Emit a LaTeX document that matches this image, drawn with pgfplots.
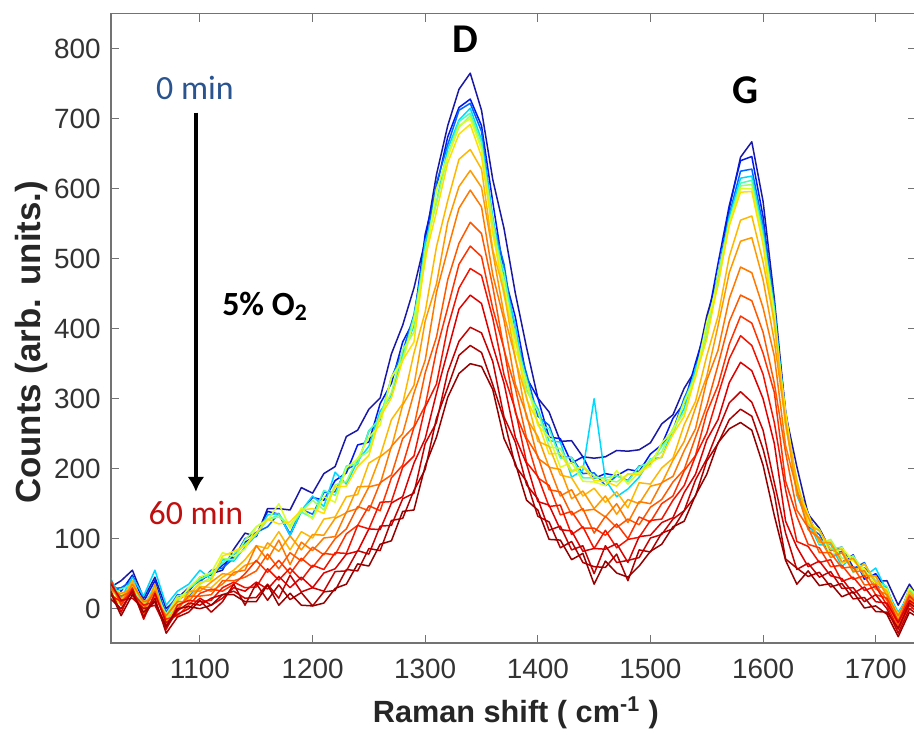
\documentclass[border=0pt]{standalone}
\usepackage{fontspec}
\setmainfont{Liberation Sans}
\newfontfamily\calibri{Carlito}
\usepackage{pgfplots}
\pgfplotsset{compat=1.18}
\usepackage{pgfplotstable}
\usetikzlibrary{arrows.meta}

% jet-like colours, 0 min (blue) to 60 min (dark red)
\definecolor{c0}{rgb}{0.10,0.10,0.65}
\definecolor{c1}{rgb}{0.00,0.10,0.95}
\definecolor{c2}{rgb}{0.00,0.40,1.00}
\definecolor{c3}{rgb}{0.00,0.85,1.00}
\definecolor{c4}{rgb}{0.30,1.00,0.70}
\definecolor{c5}{rgb}{0.60,1.00,0.40}
\definecolor{c6}{rgb}{0.85,1.00,0.15}
\definecolor{c7}{rgb}{1.00,0.88,0.00}
\definecolor{c8}{rgb}{1.00,0.72,0.00}
\definecolor{c9}{rgb}{1.00,0.60,0.00}
\definecolor{c10}{rgb}{1.00,0.47,0.00}
\definecolor{c11}{rgb}{1.00,0.35,0.00}
\definecolor{c12}{rgb}{1.00,0.20,0.00}
\definecolor{c13}{rgb}{0.95,0.08,0.00}
\definecolor{c14}{rgb}{0.87,0.00,0.00}
\definecolor{c15}{rgb}{0.78,0.00,0.00}
\definecolor{c16}{rgb}{0.68,0.00,0.00}
\definecolor{c17}{rgb}{0.58,0.00,0.00}
\definecolor{zeroblue}{rgb}{0.16,0.33,0.56}
\definecolor{sixtyred}{rgb}{0.75,0.06,0.06}

% Raman spectra, one column per time step (a0 = 0 min ... a17 = 60 min)
\pgfplotstableread{
x a0 a1 a2 a3 a4 a5 a6 a7 a8 a9 a10 a11 a12 a13 a14 a15 a16 a17
1020 30 35 28 45 20 30 15 22 40 25 35 30 45 20 28 38 15 25
1030 40 25 30 15 28 10 20 5 12 22 8 18 5 10 -5 12 0 -10
1040 55 48 40 45 35 38 30 32 40 28 35 25 30 22 28 15 25 20
1050 15 10 5 18 0 8 -5 10 5 -8 10 0 -10 5 -15 0 -12 -5
1060 45 40 30 55 35 25 30 20 28 35 15 25 20 10 22 5 15 10
1070 0 -10 -5 5 -15 -8 -20 -12 -18 -25 -10 -22 -15 -30 -20 -28 -35 -25
1080 15 10 20 25 12 18 8 15 5 -5 10 0 -10 5 -8 -3 -12 0
1090 30 25 18 35 28 22 30 20 15 25 10 18 5 12 0 8 -5 3
1100 40 45 38 55 42 35 45 38 32 25 30 18 22 10 15 5 12 0
1110 50 48 55 42 50 45 52 40 30 38 25 20 28 12 5 15 -5 5
1120 55 62 58 70 65 72 80 75 45 50 35 40 25 30 15 20 10 20
1130 85 75 72 68 78 70 75 82 55 48 52 40 35 38 30 25 35 20
1140 108 95 100 88 92 98 85 90 70 62 55 45 50 30 25 15 5 10
1150 103 104 109 105 106 117 117 108 90 67 90 54 69 31 38 16 36 10
1160 143 139 117 134 127 128 126 128 86 94 70 78 52 57 28 35 12 34
1170 143 135 136 136 134 131 150 121 110 82 98 57 69 41 46 15 34 5
1180 141 105 107 105 117 119 115 124 84 104 63 80 50 58 30 48 13 22
1190 173 139 142 140 138 139 144 141 110 84 95 68 72 41 45 24 23 5
1200 165 159 135 161 130 155 128 143 101 106 83 88 59 62 30 30 4 4
1210 193 155 166 146 169 141 160 136 128 105 101 77 79 56 51 25 24 8
1220 203 183 167 195 162 177 152 174 131 129 103 100 77 80 57 53 26 29
1230 246 194 199 178 204 182 201 175 160 137 138 114 107 79 78 54 56 35
1240 255 234 207 211 207 215 214 203 163 174 143 146 119 119 82 83 54 64
1250 285 238 254 232 254 225 245 219 208 175 174 140 147 114 114 78 86 61
1260 301 293 270 282 272 277 262 274 218 217 178 180 140 152 113 118 83 92
1270 364 322 330 305 330 309 331 301 270 230 232 191 187 153 151 119 126 97
1280 405 381 367 364 358 370 354 355 293 291 250 243 205 202 160 157 129 139
1290 458 412 420 404 417 395 411 381 365 319 308 260 259 218 208 165 169 141
1300 526 535 512 524 505 513 495 502 424 411 355 337 290 288 243 236 199 204
1310 620 602 608 580 598 580 599 567 517 464 452 388 369 321 308 266 272 245
1320 690 674 663 657 648 646 646 637 583 552 513 470 430 402 368 338 316 302
1330 742 716 712 698 696 688 690 678 642 603 572 522 492 458 428 382 362 336
1340 765 728 722 715 708 704 700 692 656 626 598 552 518 486 448 402 376 350
1350 712 690 682 670 666 658 656 646 628 602 574 536 503 476 436 394 366 346
1360 613 581 553 560 538 554 534 539 513 509 477 460 429 415 376 353 320 313
1370 543 478 492 469 481 457 468 447 452 420 412 370 371 334 322 274 270 243
1380 451 417 390 406 385 393 370 386 356 359 321 315 280 284 245 238 204 208
1390 373 330 336 312 328 311 323 299 302 272 277 244 241 209 207 177 182 155
1400 301 301 275 286 264 282 262 267 239 246 215 218 187 189 153 157 132 141
1410 281 245 262 240 257 231 245 221 232 202 203 170 176 146 148 112 124 99
1420 239 243 217 238 215 229 202 222 191 199 161 167 134 148 113 118 87 98
1430 240 208 216 188 216 197 209 195 187 157 170 134 139 106 111 84 96 70
1440 217 217 193 198 187 204 182 203 161 168 140 143 115 117 82 90 66 79
1450 215 186 194 300 187 189 181 183 172 143 142 108 115 86 86 50 60 35
1460 217 193 176 184 187 185 176 182 152 161 131 132 105 112 85 90 59 68
1470 226 190 190 160 190 181 197 175 167 135 150 116 121 87 93 66 78 51
1480 225 199 183 171 182 192 178 193 144 156 123 128 100 99 66 69 40 45
1490 227 196 204 188 203 195 195 191 180 150 153 120 131 102 103 73 84 61
1500 237 221 206 214 209 213 204 209 178 175 150 145 124 126 105 101 81 82
1510 264 234 234 216 232 224 237 217 201 179 180 156 150 128 123 106 108 92
1520 277 272 255 256 249 258 254 249 215 212 189 181 161 155 130 128 114 117
1530 315 294 301 286 297 280 295 275 263 239 226 199 197 176 166 140 140 125
1540 341 351 336 343 335 335 330 332 296 287 257 245 219 218 192 184 161 162
1550 418 406 407 390 404 394 409 385 361 332 326 290 280 251 241 214 211 192
1560 475 493 468 478 462 477 464 465 418 404 369 348 319 305 270 255 236 237
1570 572 576 563 560 553 552 550 547 503 480 443 410 378 357 323 294 270 257
1580 645 640 625 615 608 604 600 595 555 525 488 448 418 390 352 310 285 266
1590 667 646 628 618 612 606 600 596 561 530 480 440 408 376 340 295 275 255
1600 582 560 548 540 532 528 525 520 495 470 430 395 365 335 300 255 228 205
1610 443 425 436 418 429 411 420 403 410 382 361 322 309 266 236 180 164 133
1620 279 283 264 280 265 279 260 281 264 267 233 223 182 170 125 108 71 69
1630 203 174 179 162 182 175 184 175 183 164 170 141 132 96 88 56 58 35
1640 135 137 117 124 122 135 124 135 119 131 113 116 92 89 60 65 46 54
1650 115 95 106 91 111 93 113 96 112 95 101 80 87 66 68 45 52 33
1660 83 95 77 92 85 99 76 96 84 94 73 80 60 70 47 53 31 36
1670 88 66 82 60 88 72 87 65 85 67 80 58 62 39 43 29 36 17
1680 59 77 57 76 52 75 68 71 53 72 53 60 42 45 22 30 14 24
1690 58 42 66 46 64 53 57 49 64 47 54 34 47 26 31 10 16 1
1700 39 50 32 58 39 45 35 46 38 47 28 35 20 32 10 20 -4 4
1710 40 28 30 25 32 20 28 22 25 18 20 12 15 5 8 0 -5 -8
1720 5 -10 -15 -5 -20 -12 -18 -8 -15 -22 -10 -25 -18 -30 -20 -35 -28 -40
1730 35 25 30 20 28 22 30 18 25 15 20 10 18 5 12 0 8 -5
1740 10 5 15 0 10 5 12 -5 8 0 5 -5 2 -10 0 -12 -5 -15
}\spectra

\begin{document}
\begin{tikzpicture}
\begin{axis}[
    at={(0,0)}, anchor=south west,
    scale only axis,
    width=402.5bp, height=314.65bp,
    xmin=1021, xmax=1735.8,
    ymin=-49, ymax=850,
    xtick={1100,1200,...,1700},
    ytick={0,100,...,800},
    tick align=inside,
    major tick length=4bp,
    axis line style={black!55, line width=0.6bp},
    tick style={black!55, line width=0.5bp},
    /pgf/number format/assume math mode=true,
    /pgf/number format/1000 sep={},
    ticklabel style={font=\fontsize{14}{16}\selectfont, text=black!80},
    xticklabel style={yshift=-4.3bp},
    yticklabel style={xshift=-1.6bp},
    xlabel={Raman shift ( cm\textsuperscript{-1} )},
    xlabel style={at={(axis description cs:0.503,-0.1256)}, anchor=base,
        font=\bfseries\fontsize{15.4}{18}\selectfont, text=black!85},
    ylabel={Counts (arb. units.)},
    ylabel style={at={(axis description cs:-0.087,0.4777)}, anchor=base,
        font=\bfseries\fontsize{17.5}{20}\selectfont, text=black!85},
    every axis plot/.append style={line width=0.75bp, line join=round},
]
\pgfplotsinvokeforeach{0,...,17}{
  \addplot[c#1, no marks] table[x=x, y=a#1] {\spectra};
}

\node[font=\calibri\bfseries\fontsize{20.5}{24}\selectfont] at (axis cs:1335.4,813) {D};
\node[font=\calibri\bfseries\fontsize{20.5}{24}\selectfont] at (axis cs:1584.5,740) {G};
\node[font=\calibri\fontsize{17}{20}\selectfont, text=zeroblue] at (axis cs:1095.5,744) {0 min};
\node[font=\calibri\fontsize{17}{20}\selectfont, text=sixtyred] at (axis cs:1096.4,137) {60 min};
\node[font=\calibri\bfseries\fontsize{17}{20}\selectfont, anchor=west, inner sep=0pt] at (axis cs:1119.5,432) {5\% O\textsubscript{2}};
\draw[line width=2bp, -{Latex[length=7.5bp, width=8.5bp]}] (axis cs:1096.4,708.6) -- (axis cs:1096.4,167);
\end{axis}
\pgfresetboundingbox
\path[use as bounding box] (-55.5bp,-47.5bp) rectangle (401.5bp,321.5bp);
\end{tikzpicture}
\end{document}
